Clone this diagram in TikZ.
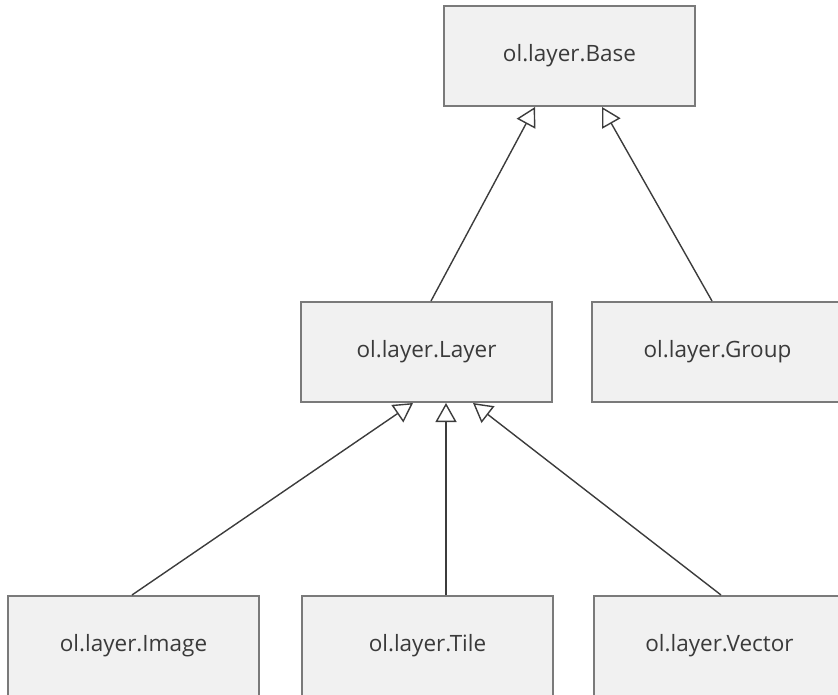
\documentclass[tikz,border=0pt]{standalone}
\usepackage{fontspec}
\setmainfont{Open Sans}
\usetikzlibrary{arrows.meta,calc}
\definecolor{boxfill}{HTML}{F1F1F1}
\definecolor{boxline}{HTML}{7A7A7A}
\definecolor{linecol}{HTML}{3C3C3C}
\definecolor{textcol}{HTML}{3A3A3A}
\tikzset{
  classbox/.style={draw=boxline, line width=2pt, fill=boxfill, rectangle,
    minimum width=251pt, minimum height=100pt, inner sep=0pt,
    font=\fontsize{22.5pt}{26pt}\selectfont, text=textcol},
  inherit/.style={draw=linecol, line width=1.4pt,
    -{Triangle[open, length=19pt, width=21pt, line width=1.4pt]}}
}
\begin{document}
\begin{tikzpicture}[x=1pt, y=-1pt]
\useasboundingbox (0,0) rectangle (838,695);
\clip (0,0) rectangle (838,695);
\node[classbox] (base)   at (569.5,56)  {ol.layer.Base};
\node[classbox] (layer)  at (426.5,352) {ol.layer.Layer};
\node[classbox] (group)  at (717.5,352) {ol.layer.Group};
\node[classbox] (image)  at (133.5,646) {ol.layer.Image};
\node[classbox] (tile)   at (427.5,646) {ol.layer.Tile};
\node[classbox] (vector) at (719.5,646) {ol.layer.Vector};
\draw[inherit] ($(layer.north west)+(131,0)$) -- ($(base.south west)+(92,0)$);
\draw[inherit] ($(group.north west)+(121,0)$) -- ($(base.south west)+(159,0)$);
\draw[inherit] ($(image.north west)+(125,0)$) -- ($(layer.south west)+(113,0)$);
\draw[inherit] ($(tile.north west)+(145,0)$) -- ($(layer.south west)+(146,0)$);
\draw[inherit] ($(vector.north west)+(128,0)$) -- ($(layer.south west)+(173,0)$);
\end{tikzpicture}
\end{document}
